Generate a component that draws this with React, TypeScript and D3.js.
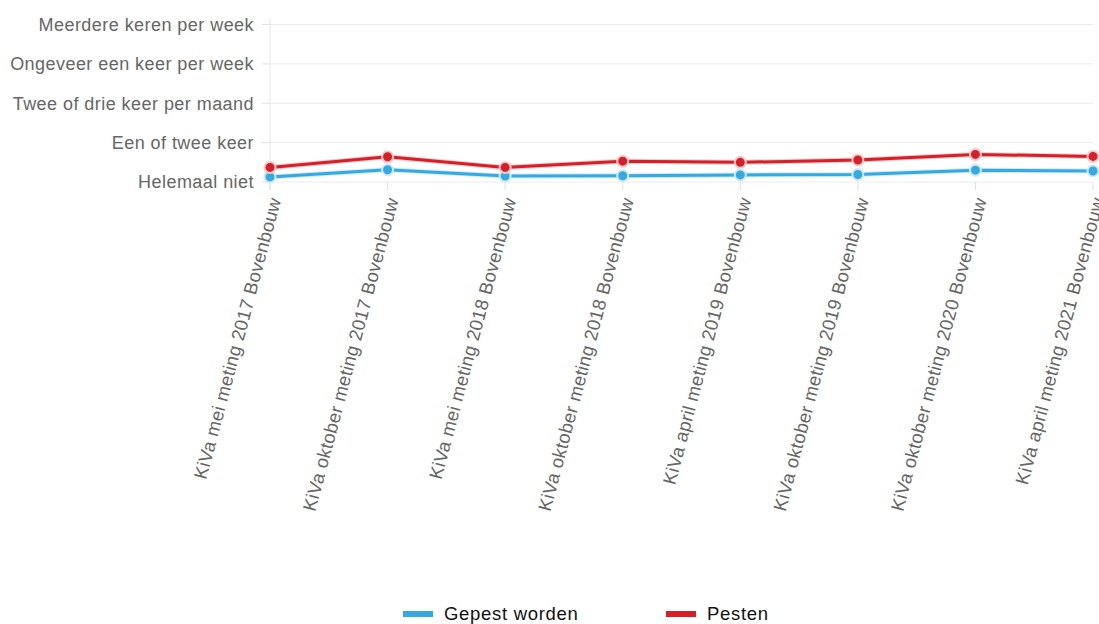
import React from "react";
import * as d3 from "d3";

const categories = [
  "KiVa mei meting 2017 Bovenbouw",
  "KiVa oktober meting 2017 Bovenbouw",
  "KiVa mei meting 2018 Bovenbouw",
  "KiVa oktober meting 2018 Bovenbouw",
  "KiVa april meting 2019 Bovenbouw",
  "KiVa oktober meting 2019 Bovenbouw",
  "KiVa oktober meting 2020 Bovenbouw",
  "KiVa april meting 2021 Bovenbouw",
];
const yLabels = [
  "Helemaal niet",
  "Een of twee keer",
  "Twee of drie keer per maand",
  "Ongeveer een keer per week",
  "Meerdere keren per week",
];
const gepestWorden = [1.13, 1.31, 1.15, 1.16, 1.18, 1.19, 1.3, 1.28];
const pesten = [1.37, 1.64, 1.37, 1.53, 1.5, 1.56, 1.7, 1.65];

const series = [
  { name: "Gepest worden", values: gepestWorden, color: "#35a9e1", halo: "#cfe9f7" },
  { name: "Pesten", values: pesten, color: "#d81e26", halo: "#f2cccd" },
];

const W = 1099;
const H = 624;
const FONT = "'Liberation Sans', Arial, sans-serif";

export default function App() {
  const x = d3
    .scalePoint<string>()
    .domain(categories)
    .range([270, 1093]);
  const y = d3.scaleLinear().domain([1, 5]).range([182, 24.5]);
  const line = d3
    .line<number>()
    .x((_, i) => x(categories[i]) as number)
    .y((d) => y(d));

  return (
    <svg
      width={W}
      height={H}
      style={{ position: "absolute", left: 0, top: 0, fontFamily: FONT }}
    >
      <rect width={W} height={H} fill="#fff" />
      {yLabels.map((l, i) => (
        <g key={l}>
          <line x1={270} x2={1093} y1={y(i + 1)} y2={y(i + 1)} stroke="#ececec" strokeWidth={1} />
          <line x1={262} x2={270} y1={y(i + 1)} y2={y(i + 1)} stroke="#e0e0e0" strokeWidth={1} />
          <text
            x={254}
            y={y(i + 1)}
            dy="0.35em"
            textAnchor="end"
            fontSize={18}
            letterSpacing={0.45}
            fill="#666"
          >
            {l}
          </text>
        </g>
      ))}
      <line x1={270} x2={270} y1={18} y2={190} stroke="#e6e6e6" />
      {categories.map((c) => {
        const cx = x(c) as number;
        return (
          <g key={c}>
            <line x1={cx} x2={cx} y1={182} y2={190} stroke="#e0e0e0" />
            <text
              transform={`translate(${cx + 5},${198}) rotate(-75)`}
              textAnchor="end"
              fontSize={18.5}
              letterSpacing={0.3}
              fill="#666"
              dy="0.35em"
            >
              {c}
            </text>
          </g>
        );
      })}
      {series.map((s) => (
        <g key={s.name}>
          <path d={line(s.values) || ""} fill="none" stroke={s.halo} strokeWidth={5} />
          <path d={line(s.values) || ""} fill="none" stroke={s.color} strokeWidth={3} />
          {s.values.map((v, i) => (
            <circle
              key={i}
              cx={x(categories[i]) as number}
              cy={y(v)}
              r={5.5}
              fill={s.color}
              stroke={s.halo}
              strokeWidth={2}
            />
          ))}
        </g>
      ))}
      {series.map((s, i) => {
        const lx = i === 0 ? 403 : 666;
        return (
          <g key={s.name}>
            <rect x={lx} y={611} width={30} height={6} fill={s.color} />
            <text x={lx + 41} y={620} fontSize={18.5} letterSpacing={0.7} fill="#111">
              {s.name}
            </text>
          </g>
        );
      })}
    </svg>
  );
}
